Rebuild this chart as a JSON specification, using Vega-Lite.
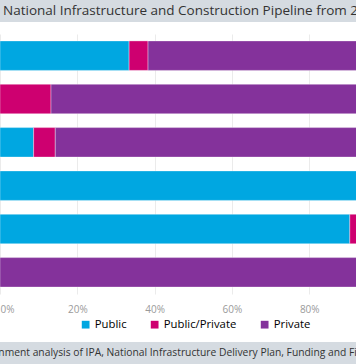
{
  "$schema": "https://vega.github.io/schema/vega-lite/v6.json",
  "padding": 0,
  "spacing": 12,
  "background": "white",
  "config": {"view": {"stroke": null}, "font": "Open Sans"},
  "resolve": {"scale": {"color": "independent"}, "legend": {"color": "independent"}},
  "vconcat": [
    {
      "width": 356,
      "height": 22,
      "view": {"fill": "#d5dbe1", "stroke": null},
      "data": {"values": [{"label": "National Infrastructure and Construction Pipeline from 2018"}]},
      "mark": {"type": "text", "align": "left", "baseline": "middle", "dx": -175, "fontSize": 13.5, "color": "#333333", "clip": true},
      "encoding": {"text": {"field": "label"}}
    },
    {
      "width": 356,
      "height": 260,
      "data": {
        "values": [
          {"sector": "Sector A", "type": "Public", "share": 0.334, "seq": 1},
          {"sector": "Sector A", "type": "Public/Private", "share": 0.049, "seq": 2},
          {"sector": "Sector A", "type": "Private", "share": 0.617, "seq": 3},
          {"sector": "Sector B", "type": "Public/Private", "share": 0.132, "seq": 2},
          {"sector": "Sector B", "type": "Private", "share": 0.868, "seq": 3},
          {"sector": "Sector C", "type": "Public", "share": 0.087, "seq": 1},
          {"sector": "Sector C", "type": "Public/Private", "share": 0.056, "seq": 2},
          {"sector": "Sector C", "type": "Private", "share": 0.857, "seq": 3},
          {"sector": "Sector D", "type": "Public", "share": 1.0, "seq": 1},
          {"sector": "Sector E", "type": "Public", "share": 0.905, "seq": 1},
          {"sector": "Sector E", "type": "Public/Private", "share": 0.095, "seq": 2},
          {"sector": "Sector F", "type": "Private", "share": 1.0, "seq": 3}
        ]
      },
      "mark": {"type": "bar", "clip": true, "stroke": "white", "strokeOpacity": 0.35, "strokeWidth": 1},
      "encoding": {
        "y": {"field": "sector", "type": "nominal", "sort": null, "axis": null, "scale": {"paddingInner": 0.32, "paddingOuter": 0.16}},
        "x": {
          "field": "share", "type": "quantitative", "stack": "normalize",
          "scale": {"domain": [0, 0.921], "nice": false},
          "axis": {"format": "%", "values": [0, 0.2, 0.4, 0.6, 0.8], "grid": true, "gridColor": "#ebebeb", "domain": false, "ticks": false, "labelPadding": 10, "labelFontSize": 10, "labelColor": "#9a9a9a", "title": null}
        },
        "color": {
          "field": "type", "type": "nominal",
          "scale": {"domain": ["Public", "Public/Private", "Private"], "range": ["#00a7e1", "#ce0070", "#84329b"]},
          "legend": {
            "orient": "none", "legendX": 80, "legendY": 285, "direction": "horizontal", "title": null,
            "symbolType": "square", "symbolSize": 60, "symbolStrokeWidth": 0, "labelFontSize": 11.3, "labelOffset": 3.5, "columnPadding": 22, "padding": 0,
            "encode": {"labels": {"update": {"fill": [
              {"test": "datum.value === 'Public'", "value": "#00a7e1"},
              {"test": "datum.value === 'Public/Private'", "value": "#ce0070"},
              {"value": "#84329b"}
            ]}}}
          }
        },
        "order": {"field": "seq"}
      }
    },
    {
      "width": 356,
      "height": 22,
      "view": {"fill": "#d5dbe1", "stroke": null},
      "data": {"values": [{"label": "Source: Government analysis of IPA, National Infrastructure Delivery Plan, Funding and Finance Supplement"}]},
      "mark": {"type": "text", "align": "center", "baseline": "middle", "dx": 11, "fontSize": 10.3, "color": "#333333", "clip": true},
      "encoding": {"text": {"field": "label"}}
    }
  ]
}
